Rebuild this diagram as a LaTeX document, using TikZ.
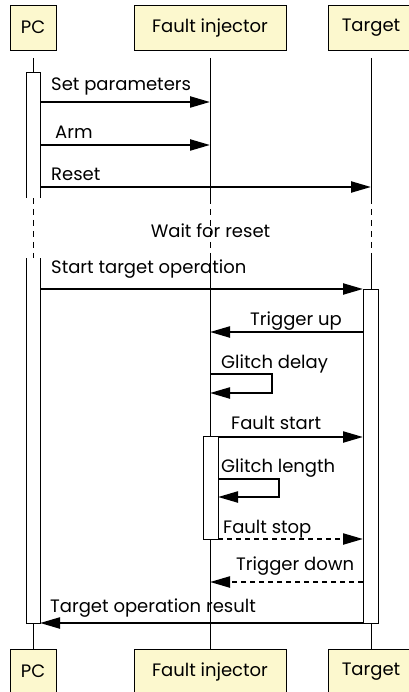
\documentclass[tikz,border=0pt]{standalone}
\usepackage{fontspec}
\setmainfont{Poppins}
\usetikzlibrary{arrows.meta}
\definecolor{boxfill}{RGB}{252,248,206}
\begin{document}
\begin{tikzpicture}[x=1pt,y=-1pt,
  txt/.style={font=\fontsize{18}{21}\selectfont},
  actor/.style={draw, fill=boxfill, line width=0.8pt, minimum height=45pt, inner sep=0pt, txt},
  life/.style={line width=0.9pt},
  lifedash/.style={line width=0.9pt, dash pattern=on 6pt off 5pt},
  msg/.style={line width=2.2pt, -{Triangle[length=20pt,width=11pt]}},
  rmsg/.style={msg, dash pattern=on 5pt off 4pt},
  lbl/.style={anchor=base west, inner sep=0pt, txt},
  actbox/.style={draw, fill=white, line width=0.9pt}]
\useasboundingbox (0,0) rectangle (408,692);
% actors
\node[actor, minimum width=46pt]  (pcT) at (33,27.5)  {PC};
\node[actor, minimum width=152pt] (fiT) at (210,27.5) {Fault injector};
\node[actor, minimum width=86pt]  (tgT) at (371,27.5) {Target};
\node[actor, minimum width=46pt]  (pcB) at (33,671.5)  {PC};
\node[actor, minimum width=152pt] (fiB) at (210,671.5) {Fault injector};
\node[actor, minimum width=86pt]  (tgB) at (371,671.5) {Target};
% break coordinates
\foreach \n/\x in {pc/33, fi/210, tg/371}{
  \coordinate (\n s) at (\x,58);
  \coordinate (\n a) at (\x,198);
  \coordinate (\n b) at (\x,259);
}
% lifelines
\foreach \n in {pc,fi,tg}{
  \draw[life] (\n s) -- (\n a);
  \draw[lifedash] (\n a) -- (\n b);
  \draw[life] (\n b) -- (\n B.north);
}
% activation boxes
\fill[white] (26,72) rectangle (40,198);
\draw[life] (26,198) -- (26,72) -- (40,72) -- (40,198);
\fill[white] (26,258) rectangle (40,623);
\draw[life] (26,258) -- (26,623) -- (40,623) -- (40,258);
\draw[actbox] (363,289) rectangle (378,623);
\draw[actbox] (203,436) rectangle (218,539);
% message coordinates
\coordinate (m1a) at (40,102);  \coordinate (m1b) at (210,102);
\coordinate (m2a) at (40,145);  \coordinate (m2b) at (210,145);
\coordinate (m3a) at (40,187);  \coordinate (m3b) at (371,187);
\coordinate (m4a) at (40,289);  \coordinate (m4b) at (363,289);
\coordinate (m5a) at (363,332); \coordinate (m5b) at (210,332);
\coordinate (m6a) at (210,374); \coordinate (m6c) at (272,393); \coordinate (m6b) at (210,393);
\coordinate (m7a) at (218,437); \coordinate (m7b) at (363,437);
\coordinate (m8a) at (218,479); \coordinate (m8c) at (279,497); \coordinate (m8b) at (218,497);
\coordinate (m9a) at (218,539); \coordinate (m9b) at (363,539);
\coordinate (m10a) at (363,582); \coordinate (m10b) at (210,582);
\coordinate (m11a) at (363,623); \coordinate (m11b) at (40,623);
% messages
\draw[msg] (m1a) -- (m1b);
\draw[msg] (m2a) -- (m2b);
\draw[msg] (m3a) -- (m3b);
\draw[msg] (m4a) -- (m4b);
\draw[msg] (m5a) -- (m5b);
\draw[msg] (m6a) -| (m6c) -- (m6b);
\draw[msg] (m7a) -- (m7b);
\draw[msg] (m8a) -| (m8c) -- (m8b);
\draw[rmsg] (m9a) -- (m9b);
\draw[rmsg] (m10a) -- (m10b);
\draw[msg] (m11a) -- (m11b);
% labels
\node[lbl] (l1) at (51,91) {Set parameters};
\node[lbl] (l2) at (55,139) {Arm};
\node[lbl] (l3) at (51,181) {Reset};
\node[anchor=base, inner sep=0pt, txt] (l0) at (210.5,238) {Wait for reset};
\node[lbl] (l4) at (51,273) {Start target operation};
\node[lbl] (l5) at (250,325) {Trigger up};
\node[lbl] (l6) at (221,368) {Glitch delay};
\node[lbl] (l7) at (231,429) {Fault start};
\node[lbl] (l8) at (221,472) {Glitch length};
\node[lbl] (l9) at (223,533) {Fault stop};
\node[lbl] (l10) at (236,570) {Trigger down};
\node[lbl] (l11) at (50,612) {Target operation result};
\end{tikzpicture}
\end{document}
